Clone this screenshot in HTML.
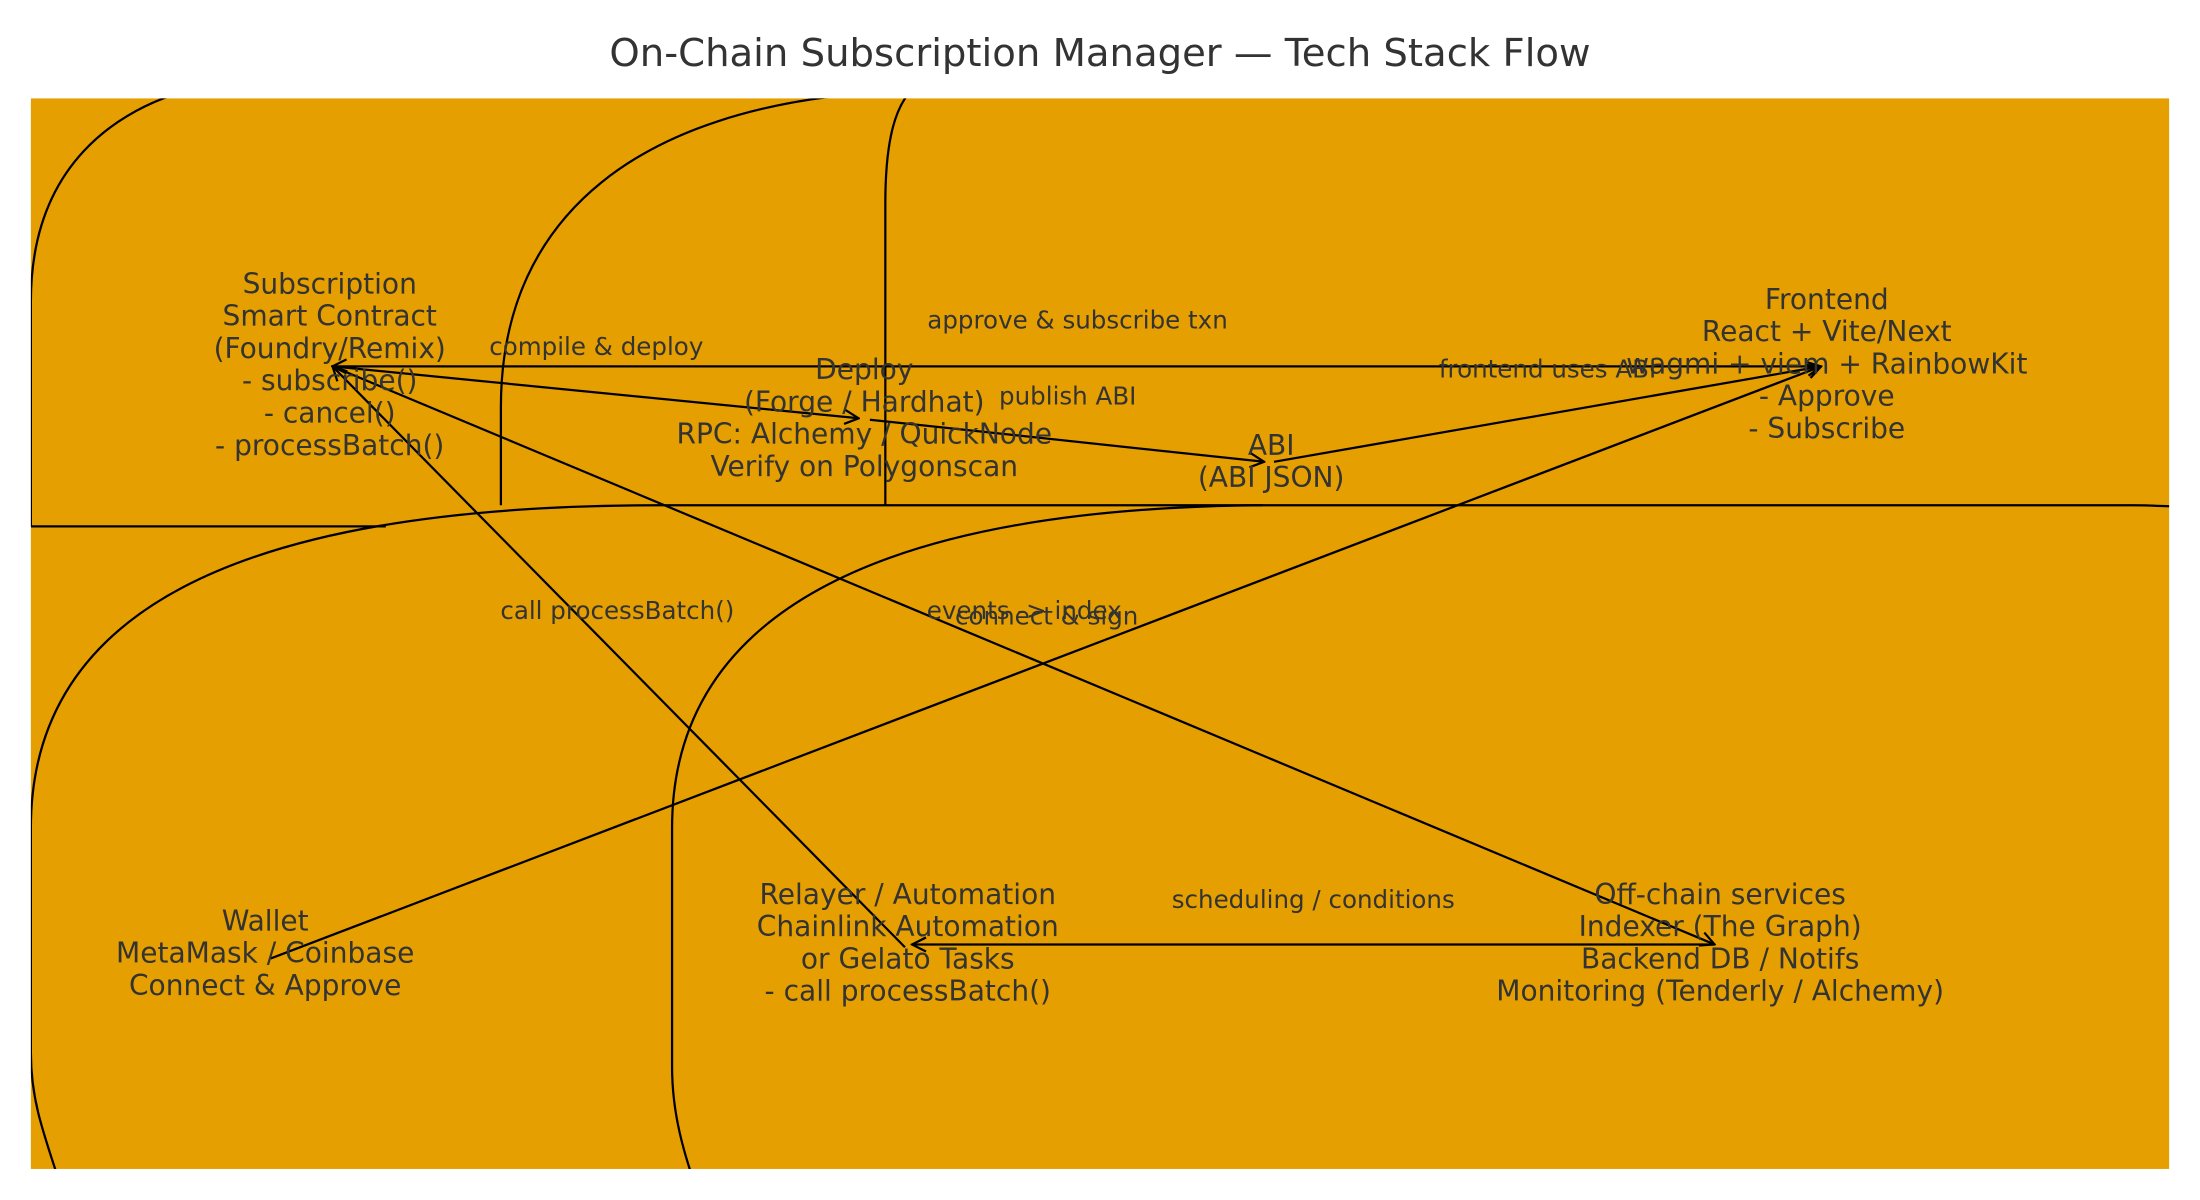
<!DOCTYPE html>
<html><head><meta charset="utf-8"><style>
html,body{margin:0;padding:0;background:#fff;width:2200px;height:1200px;overflow:hidden;}
svg{display:block;}
text{font-family:"DejaVu Sans","Liberation Sans",sans-serif;fill:#333;}
</style></head><body>
<svg width="2200" height="1200" viewBox="0 0 1568 855" xmlns="http://www.w3.org/2000/svg">
<defs>
<marker id="a" viewBox="0 0 12 12" refX="11" refY="6" markerWidth="12" markerHeight="12" markerUnits="userSpaceOnUse" orient="auto">
<path d="M1,1 L11,6 L1,11" fill="none" stroke="#000" stroke-width="1.6"/>
</marker>
<clipPath id="c"><rect x="22" y="70" width="1524" height="763"/></clipPath>
</defs>
<text x="784" y="47" font-size="27.5" text-anchor="middle">On-Chain Subscription Manager — Tech Stack Flow</text>
<rect x="22" y="70" width="1524" height="763" fill="#E69F00"/>
<g clip-path="url(#c)" fill="none" stroke="#000" stroke-width="1.6">
<path d="M22,375 L22,215 C22,120 80,75 150,60"/>
<line x1="22" y1="375" x2="275" y2="375"/>
<path d="M357,360 L357,290 C357,150 460,78 620,66"/>
<path d="M631,360 L631,145 C631,100 638,78 648,66"/>
<path d="M45,850 C28,800 22,780 22,750 L22,590 C22,440 160,360 470,360 L1520,360 C1535,360 1546,361 1560,361"/>
<path d="M505,870 C485,820 479,790 479,760 L479,590 C479,440 620,362 900,360"/>
</g>
<g fill="none" stroke="#000" stroke-width="1.6" marker-end="url(#a)">
<line x1="1298" y1="261" x2="237" y2="261"/>
<line x1="237" y1="261" x2="612" y2="298"/>
<line x1="620" y1="299" x2="901" y2="329"/>
<line x1="908" y1="329" x2="1298" y2="261"/>
<line x1="193" y1="683" x2="1298" y2="261"/>
<line x1="645" y1="675" x2="237" y2="261"/>
<line x1="237" y1="261" x2="1222" y2="673"/>
<line x1="1222" y1="673" x2="650" y2="673"/>
</g>
<g font-size="17.5" text-anchor="middle">
<text x="768" y="234">approve &amp; subscribe txn</text>
<text x="425" y="253">compile &amp; deploy</text>
<text x="761" y="288">publish ABI</text>
<text x="1103" y="269">frontend uses ABI</text>
<text x="746" y="445">connect &amp; sign</text>
<text x="440" y="441">call processBatch()</text>
<text x="730" y="441">events -&gt; index</text>
<text x="936" y="647">scheduling / conditions</text>
</g>
<g font-size="20" text-anchor="middle">
<text x="235" y="209">Subscription</text>
<text x="235" y="232">Smart Contract</text>
<text x="235" y="255">(Foundry/Remix)</text>
<text x="235" y="278">- subscribe()</text>
<text x="235" y="301">- cancel()</text>
<text x="235" y="324">- processBatch()</text>
<text x="616" y="270">Deploy</text>
<text x="616" y="293">(Forge / Hardhat)</text>
<text x="616" y="316">RPC: Alchemy / QuickNode</text>
<text x="616" y="339">Verify on Polygonscan</text>
<text x="906" y="324">ABI</text>
<text x="906" y="347">(ABI JSON)</text>
<text x="1302" y="220">Frontend</text>
<text x="1302" y="243">React + Vite/Next</text>
<text x="1302" y="266">wagmi + viem + RainbowKit</text>
<text x="1302" y="289">- Approve</text>
<text x="1302" y="312">- Subscribe</text>
<text x="189" y="663">Wallet</text>
<text x="189" y="686">MetaMask / Coinbase</text>
<text x="189" y="709">Connect &amp; Approve</text>
<text x="647" y="644">Relayer / Automation</text>
<text x="647" y="667">Chainlink Automation</text>
<text x="647" y="690">or Gelato Tasks</text>
<text x="647" y="713">- call processBatch()</text>
<text x="1226" y="644">Off-chain services</text>
<text x="1226" y="667">Indexer (The Graph)</text>
<text x="1226" y="690">Backend DB / Notifs</text>
<text x="1226" y="713">Monitoring (Tenderly / Alchemy)</text>
</g>
</svg>
</body></html>
